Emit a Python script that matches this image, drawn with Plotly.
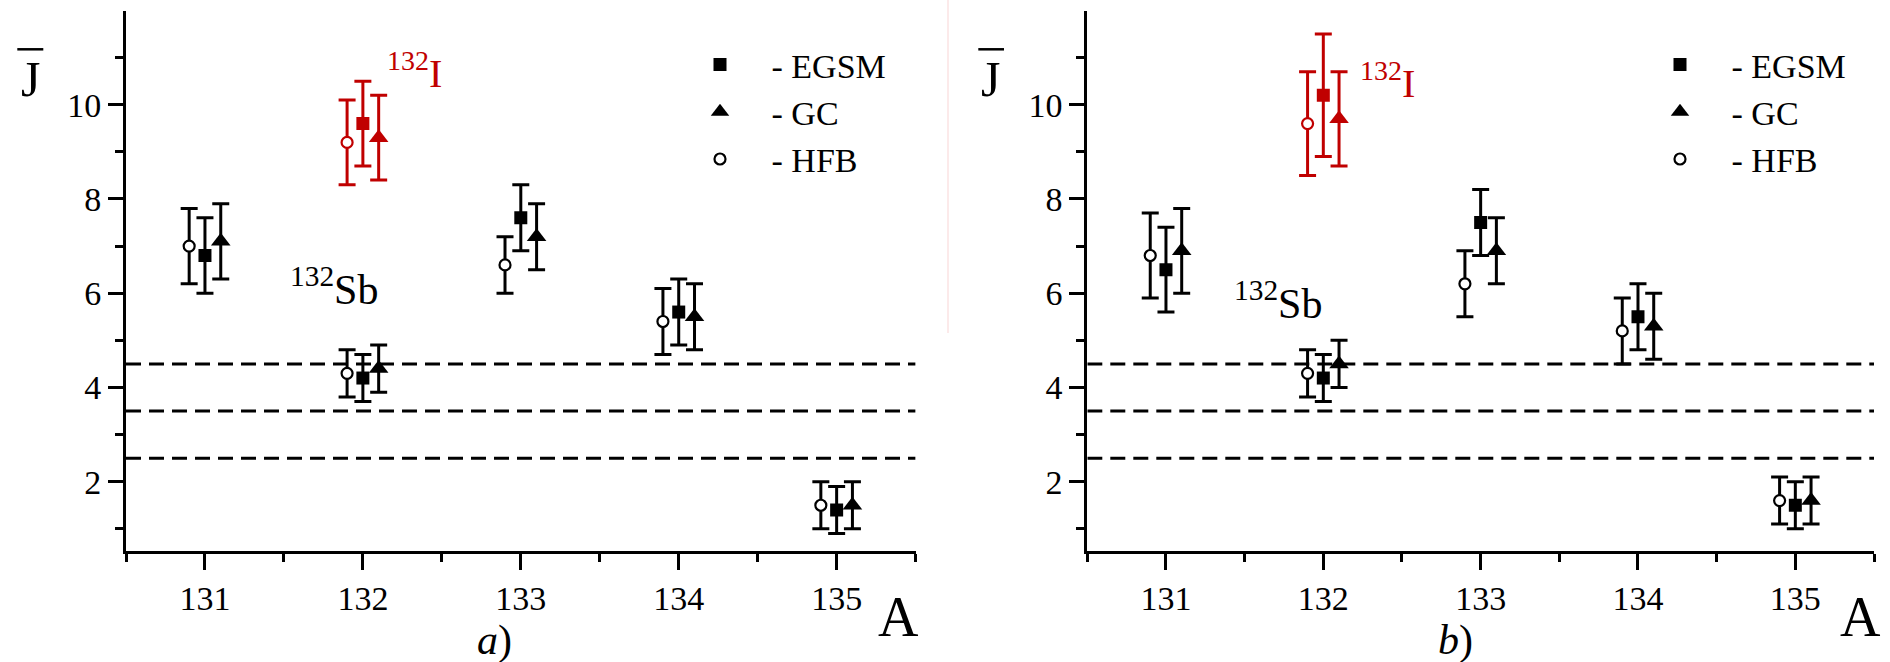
import plotly.graph_objects as go

W, H = 1890, 662
FONT = "'Liberation Serif', 'Times New Roman', Times, serif"
RED = "#c00000"
BLACK = "black"

# ---------------- data ----------------
A = [131, 132, 133, 134, 135]          # mass numbers (132 -> 132Sb, black)
A_I = [132]                            # 132I (red)
models = ["EGSM", "GC", "HFB"]
dashed_levels = [4.5, 3.5, 2.5]
x_ticks = [131, 132, 133, 134, 135]
y_ticks = [2, 4, 6, 8, 10]

# panel a)
a_egsm = [6.8, 4.2, 7.6, 5.6, 1.4]
a_egsm_err = [0.8, 0.5, 0.7, 0.7, 0.5]
a_gc = [7.1, 4.4, 7.2, 5.5, 1.5]
a_gc_err = [0.8, 0.5, 0.7, 0.7, 0.5]
a_hfb = [7.0, 4.3, 6.6, 5.4, 1.5]
a_hfb_err = [0.8, 0.5, 0.6, 0.7, 0.5]
a_I_egsm, a_I_egsm_err = [9.6], [0.9]
a_I_gc, a_I_gc_err = [9.3], [0.9]
a_I_hfb, a_I_hfb_err = [9.2], [0.9]

# panel b)
b_egsm = [6.5, 4.2, 7.5, 5.5, 1.5]
b_egsm_err = [0.9, 0.5, 0.7, 0.7, 0.5]
b_gc = [6.9, 4.5, 6.9, 5.3, 1.6]
b_gc_err = [0.9, 0.5, 0.7, 0.7, 0.5]
b_hfb = [6.8, 4.3, 6.2, 5.2, 1.6]
b_hfb_err = [0.9, 0.5, 0.7, 0.7, 0.5]
b_I_egsm, b_I_egsm_err = [10.2], [1.3]
b_I_gc, b_I_gc_err = [9.7], [1.0]
b_I_hfb, b_I_hfb_err = [9.6], [1.1]

panels = {
    "a": {"EGSM": (a_egsm, a_egsm_err, a_I_egsm, a_I_egsm_err),
          "GC": (a_gc, a_gc_err, a_I_gc, a_I_gc_err),
          "HFB": (a_hfb, a_hfb_err, a_I_hfb, a_I_hfb_err)},
    "b": {"EGSM": (b_egsm, b_egsm_err, b_I_egsm, b_I_egsm_err),
          "GC": (b_gc, b_gc_err, b_I_gc, b_I_gc_err),
          "HFB": (b_hfb, b_hfb_err, b_I_hfb, b_I_hfb_err)},
}

offsets = {"EGSM": 0.0, "GC": 0.1, "HFB": -0.1}


def marker(model, c):
    if model == "EGSM":
        return dict(symbol="square", size=13, color=c, line=dict(width=0))
    if model == "GC":
        return dict(symbol="triangle-up", size=17, color=c, line=dict(width=0))
    return dict(symbol="circle", size=11, color="white", line=dict(color=c, width=2.2))


fig = go.Figure()
axes = {"a": ("x", "y", "legend"), "b": ("x2", "y2", "legend2")}
for p, data in panels.items():
    xa, ya, lg = axes[p]
    for m in models:
        vals, errs, ivals, ierrs = data[m]
        # red 132I points
        fig.add_trace(go.Scatter(
            x=[a + offsets[m] for a in A_I], y=ivals, mode="markers",
            marker=marker(m, RED),
            error_y=dict(type="data", array=ierrs, color=RED, thickness=3, width=8.5),
            xaxis=xa, yaxis=ya, showlegend=False))
        # black points
        fig.add_trace(go.Scatter(
            x=[a + offsets[m] for a in A], y=vals, mode="markers",
            marker=marker(m, BLACK), name="- " + m,
            error_y=dict(type="data", array=errs, color=BLACK, thickness=3, width=8.5),
            xaxis=xa, yaxis=ya, showlegend=True, legend=lg))
    for lv in dashed_levels:
        fig.add_shape(type="line", xref=xa, yref=ya, x0=130.5, x1=135.5, y0=lv, y1=lv,
                      line=dict(color=BLACK, width=3, dash="15px,8px"), layer="below")


def px_x(x):
    return x / W


def px_y(y):
    return 1 - y / H


tickfont = dict(family=FONT, size=34, color=BLACK)
xcommon = dict(range=[130.5, 135.5], tickmode="array", tickvals=x_ticks, ticks="outside",
               ticklen=16, tickwidth=3, tickcolor=BLACK, showline=True, linecolor=BLACK,
               linewidth=3, showgrid=False, zeroline=False, tickfont=tickfont,
               minor=dict(tick0=130.5, dtick=0.5, ticks="outside", ticklen=8, tickwidth=3,
                          tickcolor=BLACK, showgrid=False))
ycommon = dict(range=[0.54, 11.98], tickmode="array", tickvals=y_ticks, ticks="outside",
               ticklen=15, tickwidth=3, tickcolor=BLACK, showline=True, linecolor=BLACK,
               linewidth=3, showgrid=False, zeroline=False, tickfont=tickfont,
               minor=dict(tick0=0, dtick=1, ticks="outside", ticklen=8, tickwidth=3,
                          tickcolor=BLACK, showgrid=False))

ydom = [px_y(550.5), px_y(11.4)]
legfont = dict(family=FONT, size=34, color=BLACK)
fig.update_layout(
    width=W, height=H, margin=dict(l=0, r=0, t=0, b=0, pad=0),
    paper_bgcolor="white", plot_bgcolor="white",
    font=dict(family=FONT, color=BLACK),
    xaxis=dict(domain=[px_x(126), px_x(915.6)], anchor="y", **xcommon),
    yaxis=dict(domain=ydom, anchor="x", **ycommon),
    xaxis2=dict(domain=[px_x(1087.3), px_x(1874)], anchor="y2", **xcommon),
    yaxis2=dict(domain=ydom, anchor="x2", **ycommon),
    legend=dict(x=px_x(668.5), y=px_y(36), xanchor="left", yanchor="top",
                font=legfont, itemwidth=93,
                bgcolor="rgba(0,0,0,0)", borderwidth=0, tracegroupgap=0),
    legend2=dict(x=px_x(1628.5), y=px_y(36), xanchor="left", yanchor="top",
                 font=legfont, itemwidth=93,
                 bgcolor="rgba(0,0,0,0)", borderwidth=0, tracegroupgap=0),
)

ann = []


def text(x, y, t, size, color=BLACK, xanchor="center", yanchor="middle"):
    ann.append(dict(x=px_x(x), y=px_y(y), xref="paper", yref="paper", text=t,
                    showarrow=False, xanchor=xanchor, yanchor=yanchor,
                    font=dict(family=FONT, size=size, color=color)))


# axis titles
text(30, 79, "J", 50)
text(990, 79, "J", 50)
text(898, 617, "A", 56)
text(1860, 617, "A", 56)
text(494, 640, "<i>a</i>)", 42)
text(1455, 640, "<i>b</i>)", 42)
# isotope labels
text(385, 70, "<sup>132</sup>I", 40, RED, xanchor="left")
text(1358, 80, "<sup>132</sup>I", 40, RED, xanchor="left")
text(288, 286, "<sup>132</sup>Sb", 42, xanchor="left")
text(1232, 300, "<sup>132</sup>Sb", 42, xanchor="left")
fig.update_layout(annotations=ann)

# overline of J-bar and faint seam line
for x0, x1 in [(17.3, 43.3), (978.3, 1004)]:
    fig.add_shape(type="line", xref="paper", yref="paper", x0=px_x(x0), x1=px_x(x1),
                  y0=px_y(49.3), y1=px_y(49.3), line=dict(color=BLACK, width=2.5))
fig.add_shape(type="line", xref="paper", yref="paper", x0=px_x(948), x1=px_x(948),
              y0=1, y1=px_y(333), line=dict(color="#fbe3e3", width=1.5))

fig.write_html("out.html")
